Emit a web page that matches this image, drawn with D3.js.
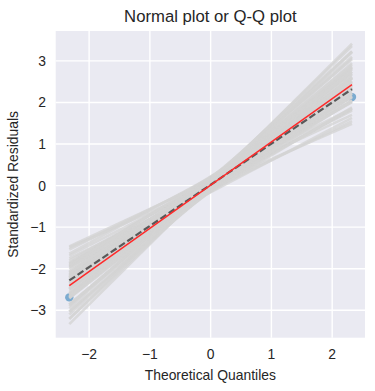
<!DOCTYPE html>
<meta charset="utf-8">
<title>Normal plot or Q-Q plot</title>
<style>
body { margin: 0; background: #fff; }
text { font-family: Arial, "Liberation Sans", sans-serif; fill: #262626; }
</style>
<script src="https://d3js.org/d3.v7.min.js"></script>
<body>
<script>
// Theoretical quantiles (x) and sorted standardized residuals (y)
var theoretical = [-2.326, -1.881, -1.645, -1.476, -1.341, -1.227, -1.126, -1.036, -0.954, -0.878,
  -0.806, -0.739, -0.674, -0.613, -0.553, -0.496, -0.440, -0.385, -0.332, -0.279,
  -0.228, -0.176, -0.126, -0.075, -0.025, 0.025, 0.075, 0.126, 0.176, 0.228,
  0.279, 0.332, 0.385, 0.440, 0.496, 0.553, 0.613, 0.674, 0.739, 0.806,
  0.878, 0.954, 1.036, 1.126, 1.227, 1.341, 1.476, 1.645, 1.881, 2.326];
var residuals = [-2.69, -1.95, -1.72, -1.50, -1.38, -1.21, -1.10, -1.02, -0.97, -0.88,
  -0.80, -0.72, -0.66, -0.60, -0.55, -0.50, -0.43, -0.37, -0.33, -0.27,
  -0.21, -0.16, -0.10, -0.05, 0.01, 0.05, 0.11, 0.15, 0.20, 0.26,
  0.31, 0.37, 0.43, 0.49, 0.55, 0.61, 0.68, 0.73, 0.80, 0.88,
  0.95, 1.03, 1.12, 1.22, 1.33, 1.45, 1.60, 1.78, 1.92, 2.13];

// Simulated envelope lines: slope and intercept of each grey line
var envSlopes = [0.64, 0.68, 0.71, 0.73, 0.75, 0.77, 0.79, 0.80, 0.82, 0.83,
  0.85, 0.86, 0.87, 0.88, 0.89, 0.90, 0.91, 0.92, 0.93, 0.94,
  0.95, 0.96, 0.96, 0.97, 0.98, 0.99, 1.00, 1.00, 1.01, 1.02,
  1.03, 1.04, 1.04, 1.05, 1.06, 1.07, 1.08, 1.09, 1.10, 1.11,
  1.12, 1.13, 1.14, 1.15, 1.16, 1.17, 1.18, 1.19, 1.20, 1.22,
  1.23, 1.25, 1.27, 1.29, 1.31, 1.33, 1.36, 1.38, 1.41, 1.45];
var envIntercepts = [0.00, 0.12, -0.10, 0.16, 0.06, -0.16, 0.20, -0.02, 0.10, -0.08,
  0.04, 0.14, -0.14, 0.08, 0.18, -0.04, 0.02, 0.22, -0.12, 0.12,
  0.00, 0.08, -0.06, 0.16, 0.04, 0.10, -0.10, 0.06, 0.14, -0.02,
  0.20, -0.08, 0.08, 0.02, 0.12, -0.14, 0.18, 0.04, -0.04, 0.10,
  0.00, 0.16, -0.06, 0.06, 0.14, 0.02, -0.12, 0.08, 0.12, -0.02,
  0.18, 0.04, -0.08, 0.10, 0.02, 0.14, 0.06, 0.00, 0.08, 0.04];

// Reference lines: [slope, intercept]
var theoryLine = [1.04, 0.01];
var fitLine = [0.99, 0.02];

var xTicks = [-2, -1, 0, 1, 2];
var yTicks = [-3, -2, -1, 0, 1, 2, 3];

var width = 375, height = 391;
var margin = {top: 31, right: 10, bottom: 53.3, left: 55.7};

var svg = d3.select("body").append("svg")
    .attr("width", width)
    .attr("height", height);

var x = d3.scaleLinear().domain([-2.55, 2.54]).range([margin.left, width - margin.right]);
var y = d3.scaleLinear().domain([-3.66, 3.72]).range([height - margin.bottom, margin.top]);

// background
svg.append("rect")
    .attr("x", margin.left)
    .attr("y", margin.top)
    .attr("width", width - margin.left - margin.right)
    .attr("height", height - margin.top - margin.bottom)
    .attr("fill", "#eaeaf2");

// grid
svg.append("g").selectAll("line")
    .data(xTicks)
  .enter().append("line")
    .attr("x1", function(d) { return x(d); })
    .attr("x2", function(d) { return x(d); })
    .attr("y1", margin.top)
    .attr("y2", height - margin.bottom)
    .attr("stroke", "#fff")
    .attr("stroke-width", 1.4);
svg.append("g").selectAll("line")
    .data(yTicks)
  .enter().append("line")
    .attr("x1", margin.left)
    .attr("x2", width - margin.right)
    .attr("y1", function(d) { return y(d); })
    .attr("y2", function(d) { return y(d); })
    .attr("stroke", "#fff")
    .attr("stroke-width", 1.4);

// points
svg.append("g").selectAll("circle")
    .data(theoretical)
  .enter().append("circle")
    .attr("cx", function(d) { return x(d); })
    .attr("cy", function(d, i) { return y(residuals[i]); })
    .attr("r", 4.2)
    .attr("fill", "#1f77b4")
    .attr("fill-opacity", 0.55);

var xMin = d3.min(theoretical), xMax = d3.max(theoretical);

// envelope
svg.append("g").selectAll("line")
    .data(envSlopes)
  .enter().append("line")
    .attr("x1", x(xMin))
    .attr("x2", x(xMax))
    .attr("y1", function(d, i) { return y(envIntercepts[i] + d * xMin); })
    .attr("y2", function(d, i) { return y(envIntercepts[i] + d * xMax); })
    .attr("stroke", "#d3d3d3")
    .attr("stroke-opacity", 0.78)
    .attr("stroke-width", 2.6);

// fitted dashed line
svg.append("line")
    .attr("x1", x(xMin))
    .attr("x2", x(xMax))
    .attr("y1", y(fitLine[1] + fitLine[0] * xMin))
    .attr("y2", y(fitLine[1] + fitLine[0] * xMax))
    .attr("stroke", "#595959")
    .attr("stroke-width", 2.2)
    .attr("stroke-dasharray", "7,3");

// theoretical red line
svg.append("line")
    .attr("x1", x(xMin))
    .attr("x2", x(xMax))
    .attr("y1", y(theoryLine[1] + theoryLine[0] * xMin))
    .attr("y2", y(theoryLine[1] + theoryLine[0] * xMax))
    .attr("stroke", "#ff2a2a")
    .attr("stroke-width", 1.5);

// tick labels
function fmt(d) { return d < 0 ? "\u2212" + Math.abs(d) : String(d); }
svg.append("g").selectAll("text")
    .data(xTicks)
  .enter().append("text")
    .attr("x", function(d) { return x(d); })
    .attr("y", height - margin.bottom + 21.3)
    .attr("text-anchor", "middle")
    .style("font-size", "13.9px")
    .text(fmt);
svg.append("g").selectAll("text")
    .data(yTicks)
  .enter().append("text")
    .attr("x", margin.left - 9.7)
    .attr("y", function(d) { return y(d) + 5; })
    .attr("text-anchor", "end")
    .style("font-size", "13.9px")
    .text(fmt);

// axis labels and title
var cx = (margin.left + width - margin.right) / 2;
svg.append("text")
    .attr("x", cx)
    .attr("y", 380)
    .attr("text-anchor", "middle")
    .style("font-size", "13.9px")
    .text("Theoretical Quantiles");
svg.append("text")
    .attr("transform", "translate(17.5," + ((margin.top + height - margin.bottom) / 2) + ") rotate(-90)")
    .attr("text-anchor", "middle")
    .style("font-size", "13.9px")
    .text("Standardized Residuals");
svg.append("text")
    .attr("x", cx)
    .attr("y", 21.5)
    .attr("text-anchor", "middle")
    .style("font-size", "16.7px")
    .text("Normal plot or Q-Q plot");
</script>
